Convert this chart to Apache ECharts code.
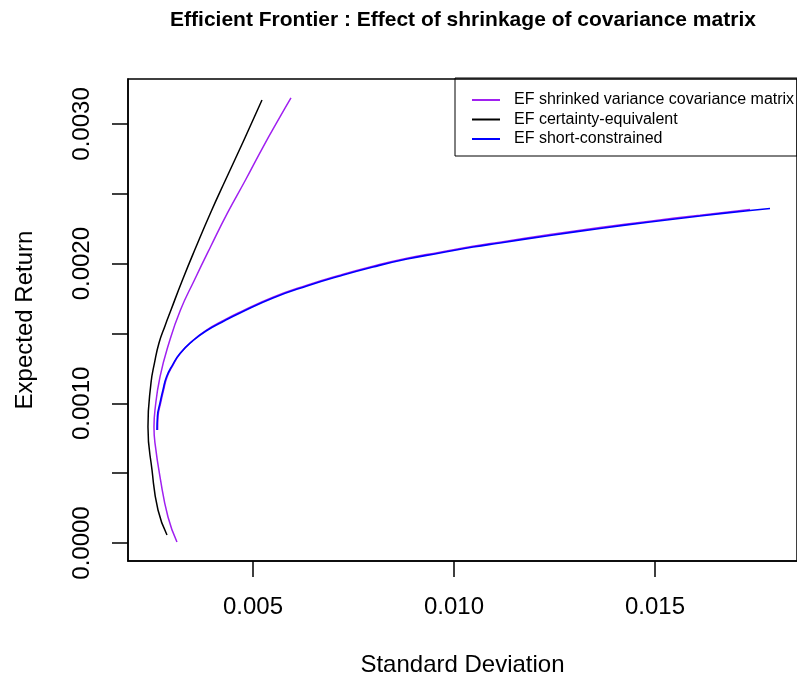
<!DOCTYPE html>
<html>
<head>
<meta charset="utf-8">
<script src="https://cdn.jsdelivr.net/npm/echarts@6.0.0/dist/echarts.min.js"></script>
<style>
  html, body { margin: 0; padding: 0; background: #ffffff; }
  #chart { width: 797px; height: 677px; }
</style>
</head>
<body>
<div id="chart"></div>
<script>
// Efficient frontiers: standard deviation (x) against expected return (y)

// Shrinkage covariance estimate, unconstrained frontier
const shrinkSd  = [0.003109, 0.002886, 0.002687, 0.002562, 0.002537, 0.002562, 0.002687, 0.002910, 0.003196, 0.003544, 0.003942, 0.004366, 0.004814, 0.005250, 0.005672, 0.005945];
const shrinkRet = [0.0000072, 0.000186, 0.000473, 0.000716, 0.000831, 0.000952, 0.001189, 0.001432, 0.001668, 0.001883, 0.002119, 0.002363, 0.002599, 0.002835, 0.003050, 0.003186];

// Shrinkage covariance estimate, short-constrained frontier
const shrinkShortSd  = [0.002627, 0.002639, 0.002702, 0.002776, 0.002863, 0.003013, 0.003199, 0.003505, 0.003836, 0.004303, 0.004677, 0.005498, 0.006343, 0.007164, 0.007985, 0.008831, 0.009652, 0.010473, 0.011144, 0.012388, 0.013632, 0.014876, 0.016119, 0.017363];
const shrinkShortRet = [0.000809, 0.000909, 0.001002, 0.001095, 0.001189, 0.001276, 0.001360, 0.001450, 0.001523, 0.001599, 0.001653, 0.001760, 0.001846, 0.001918, 0.001982, 0.002039, 0.002082, 0.002125, 0.002154, 0.002208, 0.002258, 0.002304, 0.002347, 0.002388];

// Certainty-equivalent frontier
const ceSd  = [0.002861, 0.002637, 0.002488, 0.002388, 0.002463, 0.002550, 0.002662, 0.002811, 0.002960, 0.003246, 0.003582, 0.003943, 0.004316, 0.004776, 0.005224];
const ceRet = [0.0000573, 0.000236, 0.000523, 0.000831, 0.001146, 0.001289, 0.001432, 0.001554, 0.001668, 0.001883, 0.002119, 0.002363, 0.002599, 0.002885, 0.003172];

// Short-constrained frontier
const shortSd  = [0.002612, 0.002624, 0.002687, 0.002761, 0.002848, 0.002998, 0.003184, 0.003495, 0.003831, 0.004303, 0.004677, 0.005498, 0.006343, 0.007164, 0.007985, 0.008831, 0.009652, 0.010473, 0.011144, 0.012388, 0.013632, 0.014876, 0.016119, 0.017363, 0.017861];
const shortRet = [0.000809, 0.000909, 0.001002, 0.001095, 0.001189, 0.001274, 0.001357, 0.001446, 0.001518, 0.001593, 0.001647, 0.001754, 0.001840, 0.001912, 0.001976, 0.002033, 0.002076, 0.002119, 0.002148, 0.002202, 0.002252, 0.002298, 0.002341, 0.002381, 0.002395];

// Axis ticks and labels
const xTicks = [0.005, 0.010, 0.015];
const yTicks = [0.0000, 0.0005, 0.0010, 0.0015, 0.0020, 0.0025, 0.0030];
const yLabels = [0.0000, 0.0010, 0.0020, 0.0030];

const seriesNames = ['EF shrinked variance covariance matrix', 'EF certainty-equivalent', 'EF short-constrained'];
const seriesColors = ['#a020f0', '#000000', '#0000ff'];

const FONT = '"Liberation Sans", Arial, Helvetica, sans-serif';
const zip = (xs, ys) => xs.map((x, i) => [x, ys[i]]);

const chart = echarts.init(document.getElementById('chart'), null, { renderer: 'canvas' });

function lineSeries(name, color, xs, ys, width) {
  return {
    type: 'line',
    name: name,
    data: zip(xs, ys),
    symbol: 'none',
    smooth: 0.5,
    clip: true,
    animation: false,
    lineStyle: { color: color, width: width },
    itemStyle: { color: color },
    emphasis: { disabled: true }
  };
}

chart.setOption({
  backgroundColor: '#ffffff',
  animation: false,
  title: {
    text: 'Efficient Frontier : Effect of shrinkage of covariance matrix',
    left: 458,
    top: 5,
    textAlign: 'center',
    textStyle: { fontFamily: FONT, fontSize: 21, fontWeight: 'bold', color: '#000' }
  },
  legend: {
    data: seriesNames,
    orient: 'vertical',
    left: 455,
    top: 78,
    padding: [14, 3, 9, 16],
    itemWidth: 28,
    itemHeight: 16,
    itemGap: 3.5,
    borderColor: '#000',
    borderWidth: 1,
    selectedMode: false,
    itemStyle: { opacity: 0 },
    textStyle: { fontFamily: FONT, fontSize: 16, color: '#000', lineHeight: 16, padding: [0, 0, 0, 9] }
  },
  grid: {
    left: 128,
    top: 79,
    right: 0,
    bottom: 116,
    show: true,
    borderColor: '#000',
    borderWidth: 1.5,
    containLabel: false,
    outerBoundsMode: 'none'
  },
  xAxis: {
    type: 'value',
    position: 'bottom',
    min: 0.001891,
    max: 0.018533,
    name: 'Standard Deviation',
    nameLocation: 'middle',
    nameGap: 92,
    nameMoveOverlap: false,
    nameTextStyle: { fontFamily: FONT, fontSize: 24, color: '#000' },
    axisLine: { show: true, onZero: false, lineStyle: { color: '#000', width: 1.5 } },
    splitLine: { show: false },
    axisTick: { show: true, length: 16, inside: false, customValues: xTicks, lineStyle: { color: '#000', width: 1.5 } },
    axisLabel: {
      customValues: xTicks,
      formatter: v => v.toFixed(3),
      margin: 34,
      fontFamily: FONT, fontSize: 24, color: '#000'
    }
  },
  yAxis: {
    type: 'value',
    position: 'left',
    min: -0.000129,
    max: 0.003322,
    name: 'Expected Return',
    nameLocation: 'middle',
    nameRotate: 90,
    nameGap: 91,
    nameMoveOverlap: false,
    nameTextStyle: { fontFamily: FONT, fontSize: 24, color: '#000' },
    axisLine: { show: true, onZero: false, lineStyle: { color: '#000', width: 1.5 } },
    splitLine: { show: false },
    axisTick: { show: true, length: 16, inside: false, customValues: yTicks, lineStyle: { color: '#000', width: 1.5 } },
    axisLabel: {
      customValues: yLabels,
      rotate: 90,
      formatter: v => v.toFixed(4),
      margin: 34,
      fontFamily: FONT, fontSize: 24, color: '#000'
    }
  },
  series: [
    lineSeries(seriesNames[0], seriesColors[0], shrinkSd, shrinkRet, 1.5),
    lineSeries(seriesNames[0], seriesColors[0], shrinkShortSd, shrinkShortRet, 1.5),
    lineSeries(seriesNames[1], seriesColors[1], ceSd, ceRet, 1.5),
    lineSeries(seriesNames[2], seriesColors[2], shortSd, shortRet, 1.6)
  ]
});
</script>
</body>
</html>
